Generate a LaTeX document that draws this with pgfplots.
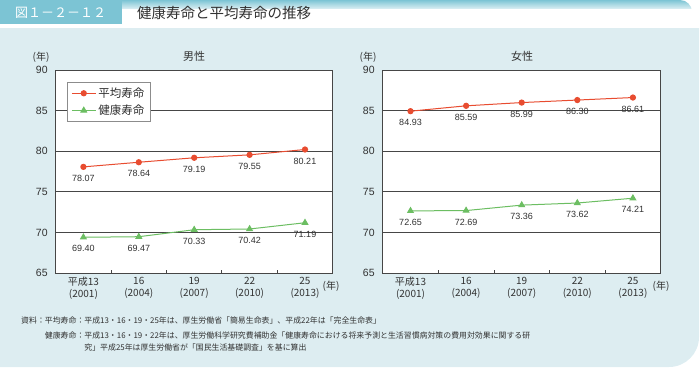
\documentclass[border=0pt]{standalone}
\usepackage{pgfplots}
\pgfplotsset{compat=1.18}
\usepackage{fontspec}
\setmainfont{Liberation Sans}
\newfontfamily\jp{Noto Sans CJK JP}
\definecolor{hdrteal}{RGB}{124,196,212}
\definecolor{panel}{RGB}{221,237,241}
\definecolor{lred}{RGB}{232,76,48}
\definecolor{lgreen}{RGB}{108,190,98}
\definecolor{gridc}{RGB}{70,70,70}
\definecolor{txt}{RGB}{50,50,50}
\pgfplotsset{jstyle/.style={
  scale only axis, width=277pt, height=203pt,
  xmin=-0.5, xmax=4.5, ymin=65, ymax=90,
  /pgf/number format/assume math mode=true,
  xtick={0,1,2,3,4},
  xticklabels={{平成13\\(2001)},{16\\(2004)},{19\\(2007)},{22\\(2010)},{25\\(2013)}},
  minor xtick={0.5,1.5,2.5,3.5},
  major tick length=0pt, minor tick length=3pt,
  tick align=inside, xtick pos=lower, ytick pos=left,
  minor tick style={gridc, line width=0.8pt},
  ytick={65,70,75,80,85,90},
  ymajorgrids, grid style={gridc, line width=0.8pt},
  axis line style={gridc, line width=0.8pt},
  xticklabel style={font=\jp\fontsize{10}{11.5}\selectfont, align=center, text=txt, yshift=-1pt},
  yticklabel style={font=\fontsize{10.5}{12}\selectfont, text=txt, xshift=-4.5pt},
  axis background/.style={fill=white},
  nodes near coords={\pgfmathprintnumber[fixed,fixed zerofill,precision=2,assume math mode=true]{\pgfplotspointmeta}},
  every node near coord/.append style={anchor=center, yshift=-11.5pt, font=\fontsize{9}{10}\selectfont, text=txt},
  clip=false,
}}
\begin{document}
\begin{tikzpicture}[x=1pt,y=1pt]
\path[use as bounding box] (0,0) rectangle (700,-367);
% header
\fill[hdrteal] (0,0) rectangle (122,-24);
\shade[top color=hdrteal, bottom color=white] (122,0) -- (680,0) arc[start angle=90,end angle=0,radius=12] -- (122,-12) -- cycle;
\fill[white] (122,-9) rectangle (700,-26);
\node[anchor=west, inner sep=0, text=white, font=\jp\fontsize{13}{14}\selectfont] at (15,-13) {図１－２－１２};
\node[anchor=west, inner sep=0, text=txt, font=\jp\fontsize{14.5}{16}\selectfont] at (137,-13) {健康寿命と平均寿命の推移};
% panel
\fill[panel] (0,-28) -- (699,-28) -- (699,-337) arc[start angle=0,end angle=-90,radius=30] -- (0,-367) -- cycle;

% male
\begin{axis}[jstyle, at={(55.7pt,-273pt)}, anchor=south west,
  legend style={at={(0.041,0.941)}, anchor=north west, draw=black!45, fill=white,
    font=\jp\fontsize{11.5}{13}\selectfont, inner xsep=4pt, inner ysep=3.5pt, row sep=2pt, cells={anchor=west}, text=txt},
  legend image code/.code={\draw[mark repeat=2,mark phase=2,#1] plot coordinates {(0pt,0pt) (12pt,0pt) (24pt,0pt)};}]
\addplot[lred, line width=1pt, mark=*, mark size=2.6pt] coordinates {(0,78.07) (1,78.64) (2,79.19) (3,79.55) (4,80.21)};
\addlegendentry{平均寿命}
\addplot[lgreen, line width=1pt, mark=triangle*, mark size=3.2pt] coordinates {(0,69.40) (1,69.47) (2,70.33) (3,70.42) (4,71.19)};
\addlegendentry{健康寿命}
\end{axis}

% female
\begin{axis}[jstyle, at={(382.7pt,-273pt)}, anchor=south west, width=278pt]
\addplot[lred, line width=1pt, mark=*, mark size=2.6pt] coordinates {(0,84.93) (1,85.59) (2,85.99) (3,86.30) (4,86.61)};
\addplot[lgreen, line width=1pt, mark=triangle*, mark size=3.2pt] coordinates {(0,72.65) (1,72.69) (2,73.36) (3,73.62) (4,74.21)};
\end{axis}

% titles and units
\node[text=txt, font=\jp\fontsize{11}{12}\selectfont] at (194,-56) {男性};
\node[text=txt, font=\jp\fontsize{11}{12}\selectfont] at (522,-56) {女性};
\node[text=txt, font=\jp\fontsize{10}{11}\selectfont] at (41,-57) {(年)};
\node[text=txt, font=\jp\fontsize{10}{11}\selectfont] at (368,-57) {(年)};
\node[text=txt, font=\jp\fontsize{10}{11}\selectfont] at (331,-286) {(年)};
\node[text=txt, font=\jp\fontsize{10}{11}\selectfont] at (661,-286) {(年)};

% footnote
\begin{scope}[every node/.style={anchor=west, inner sep=0, text=txt, font=\jp\fontsize{7.9}{9}\selectfont}]
\node at (21,-320) {資料：平均寿命：};
\node at (84.2,-320) {平成13・16・19・25年は、厚生労働省「簡易生命表」、平成22年は「完全生命表」};
\node at (44.7,-335) {健康寿命：};
\node at (84.2,-335) {平成13・16・19・22年は、厚生労働科学研究費補助金「健康寿命における将来予測と生活習慣病対策の費用対効果に関する研};
\node at (84.2,-347) {究」平成25年は厚生労働省が「国民生活基礎調査」を基に算出};
\end{scope}
\end{tikzpicture}
\end{document}
